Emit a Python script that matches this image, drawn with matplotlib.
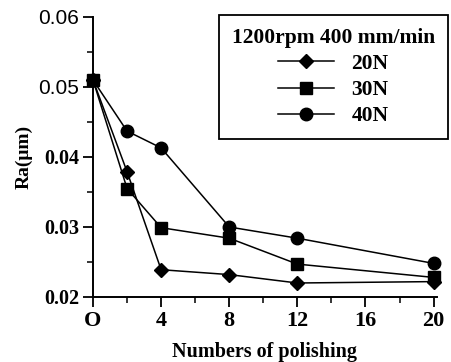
import matplotlib
matplotlib.use("Agg")
import matplotlib.pyplot as plt
from matplotlib.ticker import MultipleLocator

# polishing passes and Ra values (um) per normal force
passes = [0, 2, 4, 8, 12, 20]
ra_20n = [0.0510, 0.0379, 0.0239, 0.0232, 0.0220, 0.0222]
ra_30n = [0.0510, 0.0355, 0.0299, 0.0284, 0.0247, 0.0228]
ra_40n = [0.0510, 0.0437, 0.0413, 0.0300, 0.0284, 0.0248]
series_labels = ["20N", "30N", "40N"]
legend_title = "1200rpm 400 mm/min"
x_ticks = [0, 4, 8, 12, 16, 20]
x_ticklabels = ["O", "4", "8", "12", "16", "20"]
y_ticks = [0.02, 0.03, 0.04, 0.05, 0.06]
y_ticklabels = ["0.02", "0.03", "0.04", "0.05", "0.06"]

SERIF = ["Liberation Serif", "DejaVu Serif"]
SANS = ["Liberation Sans", "DejaVu Sans"]

fig = plt.figure(figsize=(4.51, 3.62), dpi=100)
ax = fig.add_axes([93 / 451, 1 - 297 / 362, (437 - 93) / 451, (297 - 17) / 362])

styles = [("D", 7.5), ("s", 8.5), ("o", 9)]
for ys, lab, (mk, ms) in zip([ra_20n, ra_30n, ra_40n], series_labels, styles):
    ax.plot(passes, ys, color="black", lw=1.1, marker=mk, ms=ms,
            mfc="black", mec="black", label=lab, clip_on=False, zorder=3)

ax.set_xlim(0, 20.2)
ax.set_ylim(0.02, 0.06)
ax.set_xticks(x_ticks)
ax.set_xticklabels(x_ticklabels)
ax.xaxis.set_minor_locator(MultipleLocator(2))
ax.set_yticks(y_ticks)
ax.set_yticklabels(y_ticklabels)
ax.yaxis.set_minor_locator(MultipleLocator(0.005))

for s in ["top", "right"]:
    ax.spines[s].set_visible(False)
for s in ["left", "bottom"]:
    ax.spines[s].set_linewidth(1.4)
ax.tick_params(which="major", direction="out", length=7, width=1.3, pad=3)
ax.tick_params(which="minor", direction="out", length=4, width=1.1)

for t in ax.get_xticklabels():
    t.set_fontfamily(SERIF)
    t.set_fontweight("bold")
    t.set_fontsize(16)
for t in ax.get_yticklabels():
    if t.get_text() in ("0.05", "0.06"):
        t.set_fontfamily(SANS)
        t.set_fontsize(15)
    else:
        t.set_fontfamily(SERIF)
        t.set_fontweight("bold")
        t.set_fontsize(14.5)

ax.set_xlabel("Numbers of polishing", fontfamily=SERIF, fontweight="bold",
              fontsize=14.5, labelpad=8)
ax.set_ylabel("Ra(\u03bcm)", fontfamily=SERIF, fontweight="bold",
              fontsize=14, labelpad=4)

leg = ax.legend(loc="upper right", bbox_to_anchor=(448 / 451, 1 - 15 / 362),
                bbox_transform=fig.transFigure, title=legend_title,
                prop={"family": SERIF, "weight": "bold", "size": 15.5},
                title_fontproperties={"family": SERIF, "weight": "bold", "size": 15.5},
                frameon=True, fancybox=False, edgecolor="black", framealpha=1,
                handlelength=2.6, handletextpad=0.8, labelspacing=0.28,
                borderpad=0.6, borderaxespad=0)
leg.get_frame().set_linewidth(1.3)

fig.savefig("out.png", dpi=100, facecolor="white")
